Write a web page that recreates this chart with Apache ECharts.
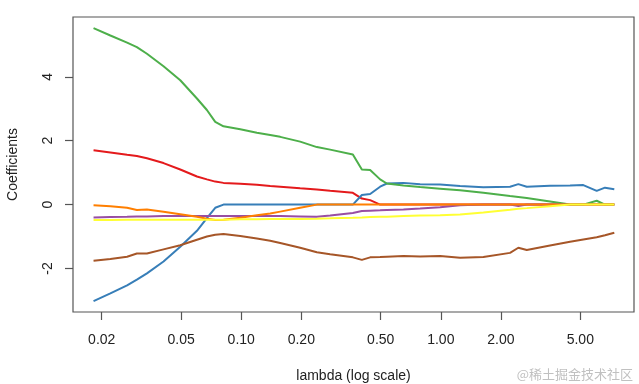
<!DOCTYPE html>
<html>
<head>
<meta charset="utf-8">
<script src="https://cdn.jsdelivr.net/npm/echarts@6/dist/echarts.min.js"></script>
<style>
html,body{margin:0;padding:0;background:#fff;}
#chart{width:639px;height:384px;}
</style>
</head>
<body>
<div id="chart"></div>
<script>
// lambda values
const lambdas = [0.0182,0.0221,0.0268,0.0300,0.0337,0.0408,0.0495,0.0600,0.0673,0.0741,0.0815,0.0989,0.1198,0.1397,0.1568,0.1974,0.2393,0.2790,0.3625,0.4022,0.4426,0.4966,0.5366,0.6498,0.7876,0.9920,1.249,1.634,2.223,2.446,2.696,3.526,4.442,5.176,6.042,6.648,7.401];

const redVals    = [1.70,1.63,1.56,1.52,1.45,1.30,1.10,0.88,0.79,0.72,0.68,0.65,0.62,0.58,0.56,0.51,0.47,0.43,0.37,0.19,0.14,0,0,0,0,0,0,0,0,0,0,0,0,0,0,0,0];
const blueVals   = [-3.02,-2.78,-2.53,-2.35,-2.15,-1.78,-1.32,-0.82,-0.42,-0.10,0,0,0,0,0,0,0,0,0,0.30,0.33,0.56,0.66,0.68,0.64,0.63,0.58,0.54,0.56,0.64,0.56,0.59,0.60,0.61,0.43,0.53,0.48];
const greenVals  = [5.52,5.29,5.07,4.93,4.72,4.33,3.89,3.32,2.96,2.59,2.45,2.36,2.25,2.18,2.12,1.97,1.80,1.72,1.57,1.10,1.08,0.79,0.66,0.60,0.55,0.50,0.45,0.37,0.27,0.24,0.21,0.10,0,0,0.12,0,0];
const purpleVals = [-0.40,-0.39,-0.38,-0.37,-0.37,-0.36,-0.36,-0.36,-0.36,-0.36,-0.36,-0.36,-0.36,-0.36,-0.36,-0.37,-0.38,-0.34,-0.26,-0.20,-0.19,-0.18,-0.17,-0.15,-0.12,-0.08,-0.02,0,0,-0.04,0,0,0,0,0,0,0];
const orangeVals = [-0.02,-0.05,-0.10,-0.17,-0.15,-0.22,-0.30,-0.38,-0.44,-0.48,-0.47,-0.41,-0.33,-0.28,-0.22,-0.10,0,0,0,0,0,0,0,0,0,0,0,0,0,0,0,0,0,0,0,0,0];
const yellowVals = [-0.48,-0.48,-0.47,-0.47,-0.47,-0.47,-0.47,-0.47,-0.47,-0.47,-0.47,-0.46,-0.46,-0.45,-0.45,-0.45,-0.44,-0.43,-0.41,-0.40,-0.39,-0.38,-0.38,-0.36,-0.34,-0.33,-0.31,-0.25,-0.16,-0.13,-0.11,-0.05,0,0,0,0,0];
const brownVals  = [-1.76,-1.70,-1.63,-1.53,-1.53,-1.40,-1.27,-1.10,-1.00,-0.94,-0.92,-0.98,-1.06,-1.13,-1.20,-1.35,-1.49,-1.55,-1.65,-1.73,-1.65,-1.64,-1.63,-1.61,-1.62,-1.61,-1.66,-1.64,-1.51,-1.35,-1.42,-1.28,-1.16,-1.09,-1.02,-0.96,-0.88];

const xTickValues = [0.02,0.05,0.1,0.2,0.5,1,2,5];
const yTickValues = [-2,0,2,4];

const seriesDefs = [
  {vals: redVals,    color: '#E41A1C'},
  {vals: blueVals,   color: '#377EB8'},
  {vals: greenVals,  color: '#4DAF4A'},
  {vals: purpleVals, color: '#984EA3'},
  {vals: orangeVals, color: '#FF7F00'},
  {vals: yellowVals, color: '#FFFF33'},
  {vals: brownVals,  color: '#A65628'}
];

const chart = echarts.init(document.getElementById('chart'), null, {renderer: 'canvas'});
const font = 'Liberation Sans, Arial, Helvetica, sans-serif';
const axisCol = '#555';
chart.setOption({
  animation: false,
  backgroundColor: '#fff',
  grid: {left: 73, right: 5, top: 17, bottom: 72, show: true, borderColor: axisCol, borderWidth: 1.2,
    backgroundColor: 'transparent', containLabel: false, outerBoundsMode: 'none'},
  xAxis: {
    type: 'log', logBase: 10, min: 0.01436, max: 9.29,
    name: 'lambda (log scale)', nameLocation: 'middle', nameGap: 57,
    nameTextStyle: {fontFamily: font, fontSize: 14, color: '#222'},
    axisLine: {show: false, onZero: false},
    axisTick: {show: true, customValues: xTickValues, length: 8, lineStyle: {color: axisCol, width: 1.2}},
    axisLabel: {customValues: xTickValues, fontFamily: font, fontSize: 14, color: '#222', margin: 21,
      formatter: v => Number(v).toFixed(2)},
    splitLine: {show: false}, minorTick: {show: false}
  },
  yAxis: {
    type: 'value', min: -3.36, max: 5.87,
    name: 'Coefficients', nameLocation: 'middle', nameGap: 53, nameRotate: 90,
    nameTextStyle: {fontFamily: font, fontSize: 14, color: '#222'},
    axisLine: {show: false, onZero: false},
    axisTick: {show: true, customValues: yTickValues, length: 8, lineStyle: {color: axisCol, width: 1.2}},
    axisLabel: {customValues: yTickValues, rotate: 90, fontFamily: font, fontSize: 14, color: '#222', margin: 18},
    splitLine: {show: false}
  },
  series: seriesDefs.map(s => ({
    type: 'line', showSymbol: false, symbol: 'none',
    data: lambdas.map((l, i) => [l, s.vals[i]]),
    lineStyle: {color: s.color, width: 2},
    itemStyle: {color: s.color}
  })),
  graphic: [{
    type: 'text', right: 6, bottom: 3,
    style: {text: '@稀土掘金技术社区', font: '13px "Noto Sans CJK SC", sans-serif', fill: '#c0c0c0'}
  }]
});
</script>
</body>
</html>
